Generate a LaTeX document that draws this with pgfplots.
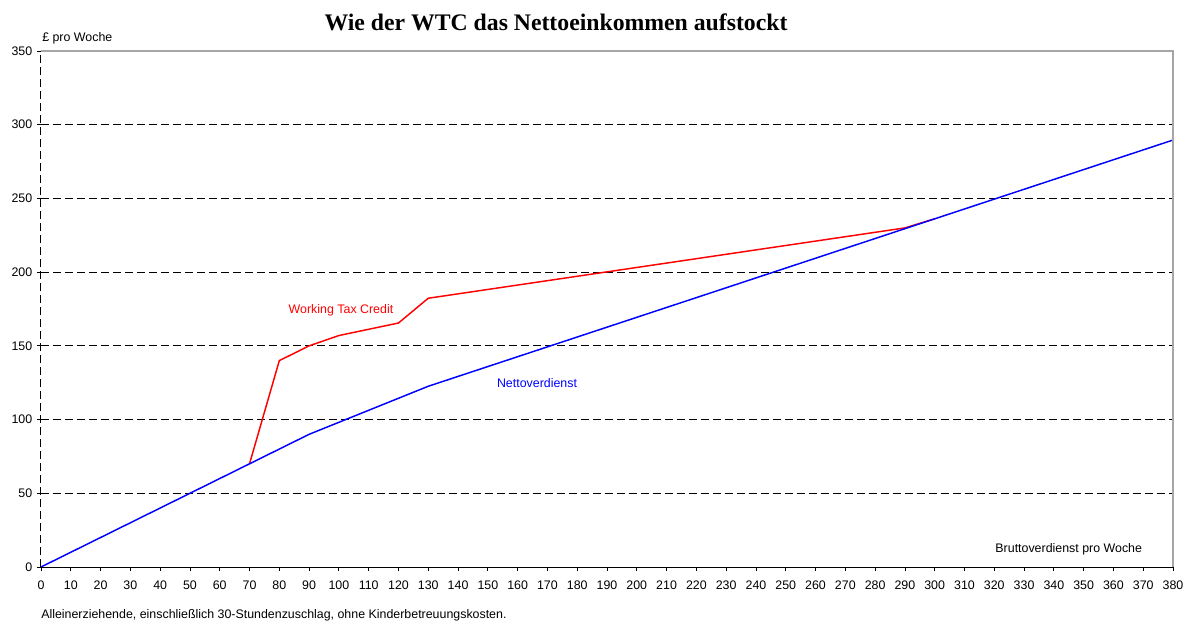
\documentclass[border=0pt]{standalone}
\usepackage{fontspec}
\setmainfont{Liberation Sans}
\newfontfamily\titlefont{Liberation Serif}
\usepackage{pgfplots}
\pgfplotsset{compat=1.18}

\begin{document}
\begin{tikzpicture}[x=0.75pt,y=0.75pt]
\useasboundingbox (0,0) rectangle (1189,-621);
\begin{axis}[
  at={(30.75pt,-425.25pt)}, anchor=south west,
  width=849pt, height=387pt, scale only axis,
  xmin=0, xmax=380, ymin=0, ymax=350,
  xtick distance=10, ytick distance=50,
  xtick pos=left, ytick pos=left,
  tick align=outside,
  major tick length=3pt,
  tick style={black, line width=0.6pt},
  axis line style={draw=none},
  ymajorgrids,
  grid style={black, line width=0.6pt, dash pattern=on 6pt off 3pt},
  tick label style={font=\fontsize{9.3}{11}\selectfont},
  xticklabel style={yshift=-3.5pt},
  /pgf/number format/assume math mode=true,
  clip=false,
]
\addplot[red, line width=1.1pt] coordinates {
  (70,70) (80,140) (90,150) (100,157) (120,165.5) (130,182.3) (290,230) (300,236.2)};
\addplot[blue, line width=1.1pt] coordinates {
  (0,0) (70,70) (90,90) (130,122.6) (380,289.6)};
\draw[gray!70, line width=0.9pt] (rel axis cs:0,1) -- (rel axis cs:1,1) -- (rel axis cs:1,0);
\draw[black, line width=0.75pt] (rel axis cs:0,0) -- (rel axis cs:1,0);
\draw[black, line width=0.75pt, dash pattern=on 6pt off 3pt] (rel axis cs:0,0) -- (rel axis cs:0,1);
\node[red, font=\fontsize{9.3}{11}\selectfont] at (axis cs:100.7,174.3) {Working Tax Credit};
\node[blue, font=\fontsize{9.3}{11}\selectfont] at (axis cs:166.5,124.8) {Nettoverdienst};
\node[font=\fontsize{9.3}{11}\selectfont] at (axis cs:345,12.2) {Bruttoverdienst pro Woche};
\end{axis}
\node[font=\titlefont\bfseries\fontsize{17.8}{20}\selectfont] at (556,-22) {Wie der WTC das Nettoeinkommen aufstockt};
\node[anchor=west, inner sep=0pt, font=\fontsize{9.3}{11}\selectfont] at (42,-38) {£ pro Woche};
\node[anchor=west, inner sep=0pt, font=\fontsize{9.3}{11}\selectfont] at (41,-615) {Alleinerziehende, einschließlich 30-Stundenzuschlag, ohne Kinderbetreuungskosten.};
\end{tikzpicture}
\end{document}
